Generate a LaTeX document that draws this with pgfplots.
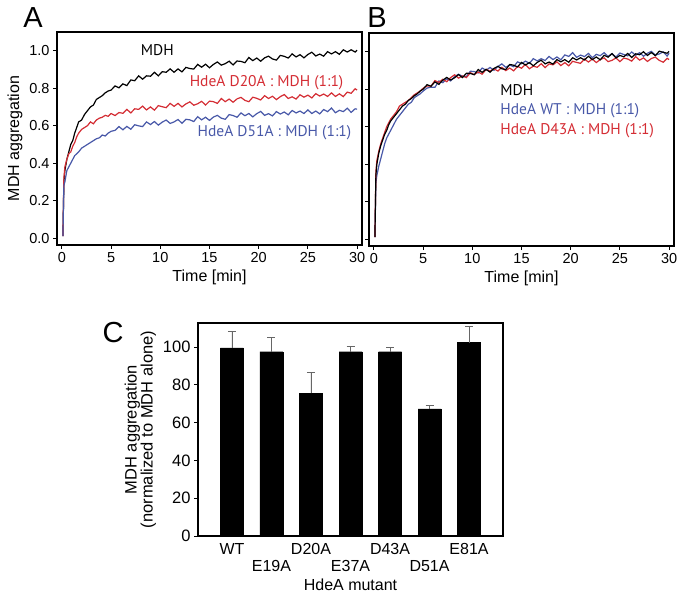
\documentclass[border=0pt]{standalone}
\usepackage{fontspec}
\setmainfont{Liberation Sans}
\newfontfamily\lab{PT Sans}
\usepackage{pgfplots}
\usepackage{pgfplotstable}
\pgfplotsset{compat=1.18}
\definecolor{cred}{RGB}{212,45,52}
\definecolor{cblue}{RGB}{72,88,168}

\pgfplotstableread{
t am ad20 ad51 bm bw bd
0.1 0.01 0.01 0.01 0.01 0.01 0.01
0.2 0.30 0.32 0.28 0.34 0.30 0.36
0.3 0.36 0.38 0.30 0.40 0.34 0.42
0.5 0.42 0.42 0.36 0.46 0.39 0.47
0.7 0.46 0.45 0.38 0.50 0.43 0.51
0.9 0.50 0.46 0.40 0.53 0.47 0.54
1.1 0.52 0.49 0.42 0.56 0.51 0.57
1.3 0.56 0.51 0.44 0.58 0.54 0.60
1.5 0.59 0.54 0.45 0.61 0.56 0.62
1.7 0.62 0.56 0.46 0.63 0.58 0.64
2.0 0.63 0.58 0.48 0.65 0.61 0.66
2.3 0.66 0.59 0.49 0.67 0.64 0.68
2.6 0.68 0.60 0.50 0.69 0.66 0.71
2.9 0.70 0.62 0.51 0.71 0.68 0.72
3.2 0.71 0.61 0.52 0.72 0.70 0.73
3.5 0.74 0.63 0.53 0.74 0.72 0.74
3.8 0.75 0.64 0.535 0.75 0.73 0.755
4.1 0.76 0.645 0.55 0.765 0.755 0.77
4.4 0.775 0.655 0.545 0.775 0.765 0.78
4.7 0.785 0.65 0.56 0.79 0.775 0.79
5.0 0.79 0.665 0.57 0.80 0.79 0.805
5.4 0.812 0.654 0.575 0.824 0.806 0.817
5.8 0.802 0.670 0.595 0.816 0.811 0.816
6.2 0.823 0.666 0.578 0.839 0.810 0.846
6.6 0.814 0.687 0.596 0.826 0.844 0.836
7.0 0.844 0.668 0.581 0.848 0.835 0.853
7.4 0.840 0.690 0.605 0.863 0.855 0.840
7.8 0.866 0.687 0.599 0.849 0.844 0.862
8.2 0.848 0.704 0.595 0.861 0.867 0.877
8.6 0.866 0.684 0.620 0.878 0.880 0.859
9.0 0.864 0.700 0.606 0.862 0.869 0.871
9.4 0.885 0.683 0.622 0.885 0.867 0.862
9.8 0.866 0.707 0.603 0.884 0.896 0.888
10.2 0.888 0.701 0.619 0.877 0.894 0.878
10.6 0.885 0.696 0.630 0.905 0.887 0.892
11.0 0.903 0.719 0.612 0.890 0.913 0.880
11.4 0.885 0.703 0.620 0.906 0.901 0.906
11.8 0.903 0.719 0.633 0.891 0.916 0.896
12.2 0.887 0.700 0.613 0.911 0.901 0.909
12.6 0.911 0.716 0.634 0.922 0.921 0.897
13.0 0.905 0.727 0.631 0.909 0.935 0.917
13.4 0.902 0.709 0.622 0.905 0.917 0.899
13.8 0.927 0.717 0.648 0.932 0.929 0.913
14.2 0.912 0.730 0.631 0.928 0.920 0.898
14.6 0.928 0.710 0.645 0.919 0.946 0.922
15.0 0.909 0.731 0.628 0.943 0.936 0.912
15.4 0.927 0.728 0.646 0.929 0.950 0.932
15.8 0.940 0.719 0.655 0.942 0.938 0.909
16.2 0.923 0.745 0.640 0.925 0.963 0.923
16.6 0.931 0.728 0.634 0.943 0.951 0.917
17.0 0.944 0.742 0.659 0.955 0.963 0.936
17.4 0.924 0.725 0.654 0.935 0.953 0.915
17.8 0.945 0.743 0.645 0.945 0.975 0.935
18.2 0.943 0.751 0.668 0.934 0.958 0.930
18.6 0.936 0.735 0.653 0.958 0.972 0.946
19.0 0.964 0.728 0.665 0.946 0.957 0.926
19.4 0.947 0.752 0.647 0.958 0.983 0.942
19.8 0.961 0.746 0.664 0.944 0.975 0.925
20.2 0.944 0.737 0.676 0.968 0.995 0.949
20.6 0.962 0.760 0.655 0.956 0.970 0.943
21.0 0.971 0.745 0.664 0.968 0.982 0.938
21.4 0.956 0.757 0.652 0.956 0.974 0.961
21.8 0.950 0.739 0.675 0.976 0.991 0.945
22.2 0.975 0.755 0.662 0.958 0.968 0.961
22.6 0.970 0.766 0.673 0.972 0.986 0.942
23.0 0.961 0.745 0.658 0.957 0.979 0.958
23.4 0.983 0.754 0.681 0.981 0.995 0.967
23.8 0.967 0.742 0.668 0.971 0.975 0.947
24.2 0.979 0.765 0.678 0.990 0.990 0.954
24.6 0.962 0.752 0.665 0.967 0.971 0.967
25.0 0.980 0.763 0.684 0.980 0.993 0.947
25.4 0.992 0.748 0.665 0.973 0.985 0.966
25.8 0.972 0.771 0.678 0.991 0.978 0.961
26.2 0.982 0.758 0.663 0.969 0.999 0.950
26.6 0.971 0.769 0.686 0.989 0.981 0.974
27.0 0.995 0.756 0.675 0.984 0.995 0.955
27.4 0.983 0.775 0.694 1.000 0.976 0.967
27.8 0.995 0.756 0.669 0.980 0.992 0.948
28.2 0.981 0.770 0.682 0.996 1.002 0.964
28.6 1.005 0.755 0.675 0.979 0.982 0.971
29.0 0.993 0.779 0.693 1.003 0.988 0.954
29.4 1.005 0.773 0.671 0.997 0.999 0.944
29.8 0.993 0.797 0.690 0.992 0.977 0.965
30.0 1.003 0.790 0.688 1.002 0.992 0.958
}\kin

\pgfplotsset{
  common/.style={
    width=305pt, height=213pt, scale only axis,
    tick align=outside, major tick length=4pt,
    axis line style={line width=1.2pt},
    every tick/.style={line width=1pt, black},
    /pgf/number format/assume math mode=true,
    label style={font=\fontsize{16}{17}\selectfont},
  },
  kin/.style={
    common,
    xmin=-0.5, xmax=30.5, ymin=-0.037, ymax=1.1,
    xtick={0,5,10,15,20,25,30},
    ytick={0,0.2,0.4,0.6,0.8,1.0},
    xtick pos=left, ytick pos=left,
    tick label style={font=\fontsize{14.5}{15}\selectfont},
    yticklabel style={/pgf/number format/.cd, fixed, fixed zerofill, precision=1},
    xlabel={Time [min]},
    every axis plot/.append style={line width=1.2pt},
  },
}

\begin{document}
\begin{tikzpicture}
\useasboundingbox (0,0) rectangle (679pt,595pt);

% Panel A
\begin{axis}[kin, at={(57pt,350pt)}, anchor=south west, ylabel={MDH aggregation}]
\addplot[black] table[x=t, y=am] {\kin};
\addplot[cred] table[x=t, y=ad20] {\kin};
\addplot[cblue] table[x=t, y=ad51] {\kin};
\node[font=\lab\fontsize{15.5}{16}\selectfont, black] at (axis cs:9.7,1.005) {MDH};
\node[font=\lab\fontsize{15.5}{16}\selectfont, text=cred] at (axis cs:20.8,0.829) {HdeA D20A : MDH (1:1)};
\node[font=\lab\fontsize{15.5}{16}\selectfont, text=cblue] at (axis cs:21.6,0.561) {HdeA D51A : MDH (1:1)};
\end{axis}

% Panel B
\begin{axis}[kin, at={(369pt,349pt)}, anchor=south west, yticklabels={}]
\addplot[cblue] table[x=t, y=bw] {\kin};
\addplot[cred] table[x=t, y=bd] {\kin};
\addplot[black] table[x=t, y=bm] {\kin};
\node[anchor=west, font=\lab\fontsize{15.5}{16}\selectfont, black] at (axis cs:12.5,0.797) {MDH};
\node[anchor=west, font=\lab\fontsize{15.5}{16}\selectfont, text=cblue] at (axis cs:12.5,0.684) {HdeA WT : MDH (1:1)};
\node[anchor=west, font=\lab\fontsize{15.5}{16}\selectfont, text=cred] at (axis cs:12.5,0.578) {HdeA D43A : MDH (1:1)};
\end{axis}

% Panel C
\begin{axis}[common, at={(198pt,59pt)}, anchor=south west,
  xmin=-0.86, xmax=6.86, ymin=0, ymax=112.7,
  ytick={0,20,40,60,80,100}, ytick pos=left,
  xtick={0,1,2,3,4,5,6},
  xtick style={draw=none},
  xticklabel style={align=center, font=\fontsize{16}{17}\selectfont},
  yticklabel style={font=\fontsize{16.5}{17}\selectfont},
  xticklabels={{WT\\\phantom{E}},{\phantom{E}\\E19A},{D20A\\\phantom{E}},{\phantom{E}\\E37A},{D43A\\\phantom{E}},{\phantom{E}\\D51A},{E81A\\\phantom{E}}},
  xlabel={HdeA mutant},
  ylabel={MDH aggregation\\(normalized to MDH alone)},
  ylabel style={align=center, font=\fontsize{16.5}{16}\selectfont},
  ybar, bar width=23pt]
\addplot[fill=black, draw=black,
  error bars/.cd, y dir=plus, y explicit,
  error bar style={line width=0.8pt, black!60},
  error mark options={rotate=90, mark size=4pt, line width=0.8pt, black!60}]
  coordinates {
  (0,99.5) +- (0,9.0)
  (1,97.5) +- (0,7.5)
  (2,75.4) +- (0,11.0)
  (3,97.5) +- (0,3.0)
  (4,97.5) +- (0,2.5)
  (5,67.3) +- (0,1.7)
  (6,102.3) +- (0,8.6)
  };
\end{axis}

\node[font=\fontsize{29}{29}\selectfont] at (33pt,577pt) {A};
\node[font=\fontsize{29}{29}\selectfont] at (377pt,577pt) {B};
\node[font=\fontsize{29}{29}\selectfont] at (113pt,262pt) {C};
\end{tikzpicture}
\end{document}
